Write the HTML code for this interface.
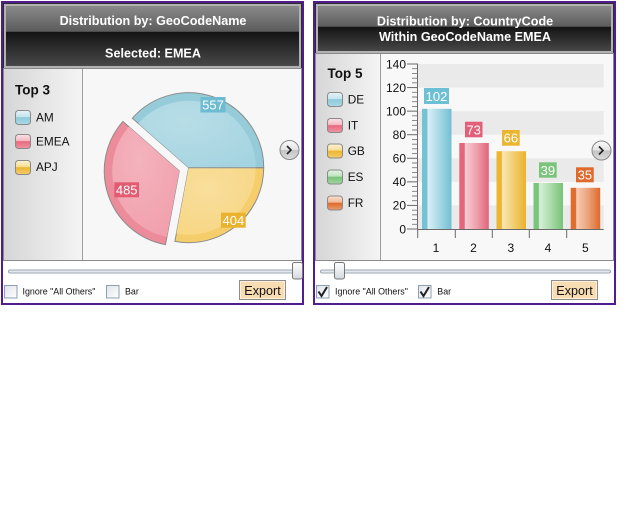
<!DOCTYPE html>
<html><head><meta charset="utf-8"><style>
html,body{margin:0;padding:0;background:#fff;}
svg{display:block;font-family:"Liberation Sans",Arial,sans-serif;}
</style></head><body>
<svg width="640" height="512" viewBox="0 0 640 512" xmlns="http://www.w3.org/2000/svg">
<defs>
<linearGradient id="hdr1" x1="0" y1="0" x2="0" y2="1">
<stop offset="0" stop-color="#8e8e8e"/><stop offset="0.43" stop-color="#5c5c5c"/>
<stop offset="0.44" stop-color="#141414"/><stop offset="1" stop-color="#4c4c4c"/></linearGradient>
<linearGradient id="hdr2" x1="0" y1="0" x2="0" y2="1">
<stop offset="0" stop-color="#8e8e8e"/><stop offset="0.46" stop-color="#5c5c5c"/>
<stop offset="0.47" stop-color="#141414"/><stop offset="1" stop-color="#4c4c4c"/></linearGradient>
<linearGradient id="leg" x1="0" y1="0" x2="1" y2="0">
<stop offset="0" stop-color="#d6d6d6"/><stop offset="0.85" stop-color="#f0f0f0"/><stop offset="1" stop-color="#f4f4f4"/></linearGradient>
<linearGradient id="thumb" x1="0" y1="0" x2="0" y2="1">
<stop offset="0" stop-color="#ffffff"/><stop offset="1" stop-color="#d4d9de"/></linearGradient>
<linearGradient id="chk" x1="0" y1="0" x2="1" y2="1">
<stop offset="0" stop-color="#dfe3e9"/><stop offset="1" stop-color="#ffffff"/></linearGradient>
<linearGradient id="chev" x1="0" y1="0" x2="0" y2="1">
<stop offset="0" stop-color="#fbfbfb"/><stop offset="0.5" stop-color="#e2e2e2"/><stop offset="0.51" stop-color="#c4c4c4"/><stop offset="1" stop-color="#dcdcdc"/></linearGradient>
<linearGradient id="sw_b" x1="0" y1="0" x2="0" y2="1"><stop offset="0" stop-color="#e6f3f7"/><stop offset="0.45" stop-color="#c6e4ed"/><stop offset="0.5" stop-color="#8ecadb"/><stop offset="1" stop-color="#acd9e6"/></linearGradient>
<linearGradient id="sw_r" x1="0" y1="0" x2="0" y2="1"><stop offset="0" stop-color="#fbe3e7"/><stop offset="0.45" stop-color="#f3b8c1"/><stop offset="0.5" stop-color="#e6687d"/><stop offset="1" stop-color="#ee96a4"/></linearGradient>
<linearGradient id="sw_y" x1="0" y1="0" x2="0" y2="1"><stop offset="0" stop-color="#fdf3d6"/><stop offset="0.45" stop-color="#f7dc92"/><stop offset="0.5" stop-color="#ecb632"/><stop offset="1" stop-color="#f3cc6a"/></linearGradient>
<linearGradient id="sw_g" x1="0" y1="0" x2="0" y2="1"><stop offset="0" stop-color="#e4f4e4"/><stop offset="0.45" stop-color="#bfe3bf"/><stop offset="0.5" stop-color="#78c378"/><stop offset="1" stop-color="#a2d6a2"/></linearGradient>
<linearGradient id="sw_o" x1="0" y1="0" x2="0" y2="1"><stop offset="0" stop-color="#fbe1d2"/><stop offset="0.45" stop-color="#f2b797"/><stop offset="0.5" stop-color="#de6a2b"/><stop offset="1" stop-color="#ea9a6c"/></linearGradient>
<linearGradient id="b_b" x1="0" y1="0" x2="1" y2="0"><stop offset="0" stop-color="#76c2d5"/><stop offset="0.17" stop-color="#76c2d5"/><stop offset="0.2" stop-color="#d9eff5"/><stop offset="0.6" stop-color="#a6d8e5"/><stop offset="1" stop-color="#72bfd3"/></linearGradient>
<linearGradient id="b_r" x1="0" y1="0" x2="1" y2="0"><stop offset="0" stop-color="#e3667b"/><stop offset="0.17" stop-color="#e3667b"/><stop offset="0.2" stop-color="#f7ccd3"/><stop offset="0.6" stop-color="#ee9fac"/><stop offset="1" stop-color="#e2627a"/></linearGradient>
<linearGradient id="b_y" x1="0" y1="0" x2="1" y2="0"><stop offset="0" stop-color="#ebb633"/><stop offset="0.17" stop-color="#ebb633"/><stop offset="0.2" stop-color="#f9e6b3"/><stop offset="0.6" stop-color="#f2cd6e"/><stop offset="1" stop-color="#eab32e"/></linearGradient>
<linearGradient id="b_g" x1="0" y1="0" x2="1" y2="0"><stop offset="0" stop-color="#7bc47b"/><stop offset="0.17" stop-color="#7bc47b"/><stop offset="0.2" stop-color="#d8f0d8"/><stop offset="0.6" stop-color="#a8dba8"/><stop offset="1" stop-color="#78c278"/></linearGradient>
<linearGradient id="b_o" x1="0" y1="0" x2="1" y2="0"><stop offset="0" stop-color="#df6d2e"/><stop offset="0.17" stop-color="#df6d2e"/><stop offset="0.2" stop-color="#f6cdb4"/><stop offset="0.6" stop-color="#eba17a"/><stop offset="1" stop-color="#dd6a2a"/></linearGradient>
<radialGradient id="hl" cx="0.4" cy="0.3" r="0.8"><stop offset="0" stop-color="#fff" stop-opacity="0.25"/><stop offset="1" stop-color="#fff" stop-opacity="0.05"/></radialGradient>
</defs>

<!-- ============ LEFT PANEL ============ -->
<rect x="2" y="2" width="301" height="302" fill="#fff" stroke="#501c8e" stroke-width="2"/>
<rect x="3.5" y="3.5" width="298" height="65" fill="url(#hdr1)" stroke="#2c2c2c"/>
<rect x="5" y="5" width="295" height="62" fill="none" stroke="#b2b2b2" stroke-width="2"/>
<text x="153" y="25" fill="#fff" font-weight="bold" font-size="12.6" text-anchor="middle">Distribution by: GeoCodeName</text>
<text x="153" y="57.3" fill="#fff" font-weight="bold" font-size="12.6" text-anchor="middle">Selected: EMEA</text>

<rect x="3.5" y="68.5" width="298" height="192" fill="#f7f7f7" stroke="#8a8a8a"/>
<rect x="4" y="69" width="78.5" height="191" fill="url(#leg)"/>
<line x1="82.5" y1="69" x2="82.5" y2="260" stroke="#9c9c9c"/>
<text x="15" y="94.5" font-weight="bold" font-size="13.5" fill="#111">Top 3</text>
<rect x="15.5" y="110.5" width="15" height="14" rx="3" fill="url(#sw_b)" stroke="#8a8a8a"/>
<text x="36" y="121.5" font-size="11.8" fill="#111">AM</text>
<rect x="15.5" y="134.5" width="15" height="14" rx="3" fill="url(#sw_r)" stroke="#8a8a8a"/>
<text x="36" y="145.5" font-size="11.8" fill="#111">EMEA</text>
<rect x="15.5" y="160.5" width="15" height="14" rx="3" fill="url(#sw_y)" stroke="#8a8a8a"/>
<text x="36" y="171" font-size="11.8" fill="#111">APJ</text>

<!-- pie -->
<g stroke="#8c8c8c" stroke-width="1">
<path d="M188.7 167.7 L263.7 167.7 A75 75 0 0 0 132.35 118.2 Z" fill="#96ccda"/>
<path d="M188.7 167.7 L263.7 167.7 A75 75 0 0 1 174.9 241.4 Z" fill="#f5cd6b"/>
<path d="M179.25 170.96 L122.9 121.46 A75 75 0 0 0 165.45 244.68 Z" fill="#ec8b99"/>
</g>
<g stroke="none">
<path d="M188.7 167.7 L255.7 167.7 A67 67 0 0 0 138.4 123.5 Z" fill="#a0d2df"/>
<path d="M188.7 167.7 L255.7 167.7 A67 67 0 0 1 176.4 233.6 Z" fill="#f7d47c"/>
<path d="M179.25 170.96 L128.9 126.7 A67 67 0 0 0 166.9 236.8 Z" fill="#f09aa7"/>
<path d="M188.7 167.7 L255.7 167.7 A67 67 0 0 0 138.4 123.5 Z" fill="url(#hl)"/>
<path d="M188.7 167.7 L255.7 167.7 A67 67 0 0 1 176.4 233.6 Z" fill="url(#hl)"/>
<path d="M179.25 170.96 L128.9 126.7 A67 67 0 0 0 166.9 236.8 Z" fill="url(#hl)"/>
</g>
<line x1="188.7" y1="167.7" x2="263.7" y2="167.7" stroke="#8c8c8c"/>
<rect x="200.5" y="97" width="25" height="15.5" fill="#6dbcd2"/>
<text x="213" y="109.3" fill="#fff" font-size="13" text-anchor="middle">557</text>
<rect x="114.3" y="182.3" width="24.7" height="15" fill="#e35b71"/>
<text x="126.7" y="194.5" fill="#fff" font-size="13" text-anchor="middle">485</text>
<rect x="221" y="212.7" width="24.7" height="15" fill="#e9b330"/>
<text x="233.4" y="224.9" fill="#fff" font-size="13" text-anchor="middle">404</text>

<circle cx="289.5" cy="150" r="9.5" fill="url(#chev)" stroke="#8a8a8a"/>
<path d="M287 146 L291 150 L287 154" fill="none" stroke="#222" stroke-width="1.6"/>

<!-- controls left -->
<rect x="8.5" y="270" width="293" height="3" rx="1.5" fill="#e4e8ec" stroke="#9ba7b4" stroke-width="1"/>
<rect x="292.5" y="262.5" width="10" height="16.5" rx="2" fill="url(#thumb)" stroke="#777"/>
<rect x="4.5" y="285.5" width="12.5" height="12.5" fill="url(#chk)" stroke="#8e9fb2"/>
<text x="22.5" y="294.6" font-size="8.9" fill="#111">Ignore "All Others"</text>
<rect x="106.5" y="285.5" width="12.5" height="12.5" fill="url(#chk)" stroke="#8e9fb2"/>
<text x="125" y="294.6" font-size="8.9" fill="#111">Bar</text>
<rect x="239.5" y="280.5" width="46" height="19" fill="#f8ddb3" stroke="#8c8c8c"/>
<rect x="240.5" y="281.5" width="44" height="17" fill="none" stroke="#fdf0dc" stroke-width="1"/>
<text x="262.5" y="295" font-size="12.6" fill="#111" text-anchor="middle">Export</text>

<!-- ============ RIGHT PANEL ============ -->
<rect x="314" y="2" width="301" height="302" fill="#fff" stroke="#501c8e" stroke-width="2"/>
<rect x="315.5" y="3.5" width="298" height="50" fill="url(#hdr2)" stroke="#2c2c2c"/>
<rect x="317" y="5" width="295" height="47" fill="none" stroke="#b2b2b2" stroke-width="2"/>
<text x="465" y="25.5" fill="#fff" font-weight="bold" font-size="12.6" text-anchor="middle">Distribution by: CountryCode</text>
<text x="465" y="41.2" fill="#fff" font-weight="bold" font-size="12.6" text-anchor="middle">Within GeoCodeName EMEA</text>

<rect x="315.5" y="53.5" width="298" height="207" fill="#f8f8f8" stroke="#8a8a8a"/>
<rect x="316" y="54" width="64.5" height="206" fill="url(#leg)"/>
<line x1="380.5" y1="54" x2="380.5" y2="260" stroke="#9c9c9c"/>
<text x="327.5" y="78" font-weight="bold" font-size="13.5" fill="#111">Top 5</text>
<rect x="327.5" y="92.5" width="15" height="14" rx="3" fill="url(#sw_b)" stroke="#8a8a8a"/>
<text x="347.7" y="103.3" font-size="11.8" fill="#111">DE</text>
<rect x="327.5" y="118.5" width="15" height="14" rx="3" fill="url(#sw_r)" stroke="#8a8a8a"/>
<text x="347.7" y="129.3" font-size="11.8" fill="#111">IT</text>
<rect x="327.5" y="144" width="15" height="14" rx="3" fill="url(#sw_y)" stroke="#8a8a8a"/>
<text x="347.7" y="155" font-size="11.8" fill="#111">GB</text>
<rect x="327.5" y="170" width="15" height="14" rx="3" fill="url(#sw_g)" stroke="#8a8a8a"/>
<text x="347.7" y="181" font-size="11.8" fill="#111">ES</text>
<rect x="327.5" y="196" width="15" height="14" rx="3" fill="url(#sw_o)" stroke="#8a8a8a"/>
<text x="347.7" y="207" font-size="11.8" fill="#111">FR</text>

<!-- bands -->
<g fill="#eaeaea">
<rect x="418" y="64" width="185.7" height="23.57"/>
<rect x="418" y="111.14" width="185.7" height="23.57"/>
<rect x="418" y="158.29" width="185.7" height="23.57"/>
<rect x="418" y="205.43" width="185.7" height="23.57"/>
</g>
<!-- axis -->
<g stroke="#6a6a6a" stroke-width="1">
<line x1="417.5" y1="63.5" x2="417.5" y2="229.5"/>
<line x1="417.5" y1="229.5" x2="603.7" y2="229.5"/>
<line x1="407" y1="64" x2="417.5" y2="64"/>
<line x1="407" y1="87.57" x2="417.5" y2="87.57"/>
<line x1="407" y1="111.14" x2="417.5" y2="111.14"/>
<line x1="407" y1="134.71" x2="417.5" y2="134.71"/>
<line x1="407" y1="158.29" x2="417.5" y2="158.29"/>
<line x1="407" y1="181.86" x2="417.5" y2="181.86"/>
<line x1="407" y1="205.43" x2="417.5" y2="205.43"/>
<line x1="407" y1="229" x2="417.5" y2="229"/>
<line x1="417.7" y1="229.5" x2="417.7" y2="238"/>
<line x1="455.3" y1="229.5" x2="455.3" y2="238"/>
<line x1="492.3" y1="229.5" x2="492.3" y2="238"/>
<line x1="529.3" y1="229.5" x2="529.3" y2="238"/>
<line x1="566.7" y1="229.5" x2="566.7" y2="238"/>
</g>
<g stroke="#7a7a7a" stroke-width="0.9">
<path d="M412 68.71H417.5M412 73.43H417.5M412 78.14H417.5M412 82.86H417.5
M412 92.29H417.5M412 97H417.5M412 101.71H417.5M412 106.43H417.5
M412 115.86H417.5M412 120.57H417.5M412 125.29H417.5M412 130H417.5
M412 139.43H417.5M412 144.14H417.5M412 148.86H417.5M412 153.57H417.5
M412 163H417.5M412 167.71H417.5M412 172.43H417.5M412 177.14H417.5
M412 186.57H417.5M412 191.29H417.5M412 196H417.5M412 200.71H417.5
M412 210.14H417.5M412 214.86H417.5M412 219.57H417.5M412 224.29H417.5"/>
</g>
<g font-size="12" fill="#111" text-anchor="end">
<text x="406" y="68.3">140</text>
<text x="406" y="91.9">120</text>
<text x="406" y="115.4">100</text>
<text x="406" y="139">80</text>
<text x="406" y="162.6">60</text>
<text x="406" y="186.2">40</text>
<text x="406" y="209.7">20</text>
<text x="406" y="233.3">0</text>
</g>
<g font-size="12" fill="#111" text-anchor="middle">
<text x="436" y="252">1</text>
<text x="473.5" y="252">2</text>
<text x="510.8" y="252">3</text>
<text x="548" y="252">4</text>
<text x="585.3" y="252">5</text>
</g>
<!-- bars -->
<rect x="422" y="108.8" width="29.5" height="120.2" fill="url(#b_b)"/>
<rect x="459.3" y="143" width="29.5" height="86" fill="url(#b_r)"/>
<rect x="496.5" y="151.2" width="29.5" height="77.8" fill="url(#b_y)"/>
<rect x="533.5" y="183" width="29.5" height="46" fill="url(#b_g)"/>
<rect x="570.7" y="187.8" width="29.5" height="41.2" fill="url(#b_o)"/>
<g font-size="13" fill="#fff" text-anchor="middle">
<rect x="424" y="88" width="25" height="16" fill="#6dbfd5" stroke="none"/>
<text x="436.5" y="100.8">102</text>
<rect x="465" y="121.7" width="17.5" height="15.6" fill="#e3607a"/>
<text x="473.7" y="134.3">73</text>
<rect x="502" y="130" width="17.7" height="15.7" fill="#ebb530"/>
<text x="510.9" y="142.6">66</text>
<rect x="539" y="162.3" width="17.7" height="15.4" fill="#7bc47c"/>
<text x="547.9" y="174.8">39</text>
<rect x="576" y="167.3" width="17.7" height="15" fill="#df6a2c"/>
<text x="584.9" y="179.6">35</text>
</g>

<circle cx="601.5" cy="150.5" r="9.5" fill="url(#chev)" stroke="#8a8a8a"/>
<path d="M599 146.5 L603 150.5 L599 154.5" fill="none" stroke="#222" stroke-width="1.6"/>

<!-- controls right -->
<rect x="320.5" y="270" width="290" height="3" rx="1.5" fill="#e4e8ec" stroke="#9ba7b4" stroke-width="1"/>
<rect x="334.5" y="262.5" width="10" height="16.5" rx="2" fill="url(#thumb)" stroke="#777"/>
<rect x="316.5" y="285.5" width="12.5" height="12.5" fill="url(#chk)" stroke="#8e9fb2"/>
<path d="M318.5 291.5 L321.5 296 L327 287" fill="none" stroke="#222" stroke-width="2"/>
<text x="335" y="294.6" font-size="8.9" fill="#111">Ignore "All Others"</text>
<rect x="418.5" y="285.5" width="12.5" height="12.5" fill="url(#chk)" stroke="#8e9fb2"/>
<path d="M420.5 291.5 L423.5 296 L429 287" fill="none" stroke="#222" stroke-width="2"/>
<text x="437.3" y="294.6" font-size="8.9" fill="#111">Bar</text>
<rect x="551.5" y="280.5" width="46" height="19" fill="#f8ddb3" stroke="#8c8c8c"/>
<rect x="552.5" y="281.5" width="44" height="17" fill="none" stroke="#fdf0dc" stroke-width="1"/>
<text x="574.5" y="295" font-size="12.6" fill="#111" text-anchor="middle">Export</text>
</svg>
</body></html>
